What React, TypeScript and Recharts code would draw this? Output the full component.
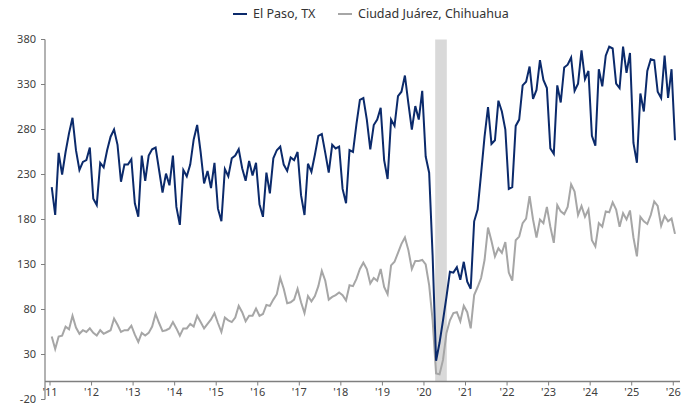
import { ComposedChart, Line, XAxis, YAxis, ReferenceArea, ReferenceLine } from 'recharts'

// monthly values, Jan 2011 .. Jan 2026
const START_YEAR = 2011

const elPaso = [
  216, 185, 254, 230, 255, 276, 293, 257, 235, 244, 246, 260,
  203, 196, 243, 238, 257, 272, 280, 263, 222, 241, 241, 247,
  198, 183, 251, 223, 251, 258, 260, 235, 210, 231, 218, 251,
  194, 174, 235, 228, 241, 269, 285, 255, 220, 234, 215, 243,
  192, 178, 236, 228, 248, 251, 258, 237, 223, 245, 229, 243,
  197, 183, 232, 209, 248, 257, 261, 241, 234, 249, 246, 255,
  207, 185, 242, 233, 252, 273, 275, 254, 232, 263, 259, 261,
  214, 198, 257, 255, 286, 313, 315, 291, 258, 285, 291, 304,
  246, 225, 291, 284, 317, 322, 340, 309, 280, 306, 291, 323,
  250, 232, 140, 23, 43, 68, 94, 122, 121, 127, 113, 133,
  111, 103, 178, 191, 231, 272, 305, 264, 268, 312, 300, 280,
  214, 216, 284, 291, 329, 333, 350, 314, 324, 357, 335, 326,
  259, 253, 329, 310, 349, 352, 360, 323, 331, 368, 336, 345,
  273, 262, 347, 328, 362, 372, 370, 331, 326, 372, 343, 365,
  265, 243, 320, 300, 345, 358, 357, 322, 315, 362, 315, 347,
  268,
]

const juarez = [
  50, 36, 50, 51, 61, 58, 73, 60, 53, 57, 55, 59,
  54, 51, 57, 53, 55, 57, 70, 63, 55, 57, 57, 62,
  52, 44, 54, 51, 54, 61, 75, 65, 56, 57, 59, 66,
  59, 51, 59, 59, 64, 61, 73, 66, 59, 64, 69, 76,
  65, 55, 71, 68, 66, 71, 84, 77, 67, 73, 73, 81,
  73, 75, 85, 84, 91, 97, 115, 103, 87, 88, 91, 103,
  88, 76, 95, 89, 95, 106, 123, 112, 91, 94, 96, 99,
  96, 90, 107, 106, 114, 125, 132, 125, 109, 115, 112, 125,
  105, 97, 129, 133, 143, 153, 160, 146, 125, 134, 134, 135,
  130, 107, 68, 9, 8, 24, 54, 68, 76, 77, 67, 84,
  77, 59, 96, 105, 115, 135, 171, 156, 139, 148, 143, 155,
  121, 112, 157, 161, 176, 181, 206, 180, 160, 180, 176, 194,
  172, 154, 196, 189, 186, 194, 219, 211, 185, 195, 183, 191,
  157, 150, 176, 172, 189, 188, 199, 191, 172, 187, 180, 190,
  160, 139, 183, 178, 175, 185, 200, 195, 173, 184, 178, 181,
  164,
]

const yTicks = [-20, 30, 80, 130, 180, 230, 280, 330, 380]
const xTicks = [2011, 2012, 2013, 2014, 2015, 2016, 2017, 2018, 2019, 2020, 2021, 2022, 2023, 2024, 2025, 2026]
const shaded = [2020.27, 2020.55]

const data = elPaso.map((v, i) => ({
  t: START_YEAR + (i + 0.5) / 12,
  elPaso: v,
  juarez: juarez[i],
}))

const NAVY = '#0b2a6b'
const GRAY = '#a6a6a6'
const AXIS = '#7f7f7f'
const TEXT = '#404040'
const FONT = '"Noto Sans", "Open Sans", sans-serif'

// x axis sits on the zero line, 20 units above the -20 floor (360px for 400 units)
const ZERO_LIFT = (360 * 20) / 400

function YearTick(props: any) {
  const { x, y, payload } = props
  const y0 = y - ZERO_LIFT
  return (
    <g>
      <line x1={x} x2={x} y1={y0} y2={y0 + 4} stroke={AXIS} />
      <text x={x} y={y0 + 14} textAnchor="middle" fontSize={11} fill={TEXT} fontFamily={FONT}>
        {"'" + String(payload.value).slice(2)}
      </text>
    </g>
  )
}

function LegendItem({ color, label, left }: { color: string; label: string; left: number }) {
  return (
    <span style={{ position: 'absolute', left, top: 0, display: 'flex', alignItems: 'center', whiteSpace: 'nowrap' }}>
      <span style={{ display: 'inline-block', width: 14, height: 2, background: color, marginRight: 6 }} />
      {label}
    </span>
  )
}

export default function App() {
  return (
    <div style={{ position: 'absolute', left: 0, top: 0, width: 695, height: 408, background: '#fff' }}>
      <div style={{ position: 'absolute', left: 0, top: 6, fontFamily: FONT, fontSize: 12.5, color: '#333', lineHeight: '16px' }}>
        <LegendItem color={NAVY} label="El Paso, TX" left={233} />
        <LegendItem color={GRAY} label="Ciudad Juárez, Chihuahua" left={338} />
      </div>
      <ComposedChart width={695} height={408} data={data} margin={{ top: 39.5, right: 15, bottom: 0, left: 0 }}>
        <XAxis
          dataKey="t"
          type="number"
          domain={[2011, 2026]}
          ticks={xTicks}
          interval={0}
          padding={{ left: 5, right: 5 }}
          height={8.5}
          tickSize={0}
          tickMargin={0}
          axisLine={false}
          tickLine={false}
          tick={(p: any) => <YearTick {...p} />}
        />
        <YAxis
          domain={[-20, 380]}
          ticks={yTicks}
          interval={0}
          width={45}
          tickSize={4}
          tickMargin={5}
          axisLine={{ stroke: AXIS, strokeWidth: 1.2 }}
          tickLine={{ stroke: AXIS }}
          tick={{ fontSize: 11, fill: TEXT, fontFamily: FONT }}
        />
        <ReferenceArea x1={shaded[0]} x2={shaded[1]} y1={0} y2={380} fill="#d9d9d9" fillOpacity={1} stroke="none" />
        <ReferenceLine y={0} stroke={AXIS} strokeWidth={1.5} />
        <Line type="linear" dataKey="juarez" stroke={GRAY} strokeWidth={2} dot={false} isAnimationActive={false} />
        <Line type="linear" dataKey="elPaso" stroke={NAVY} strokeWidth={2} dot={false} isAnimationActive={false} />
      </ComposedChart>
    </div>
  )
}
